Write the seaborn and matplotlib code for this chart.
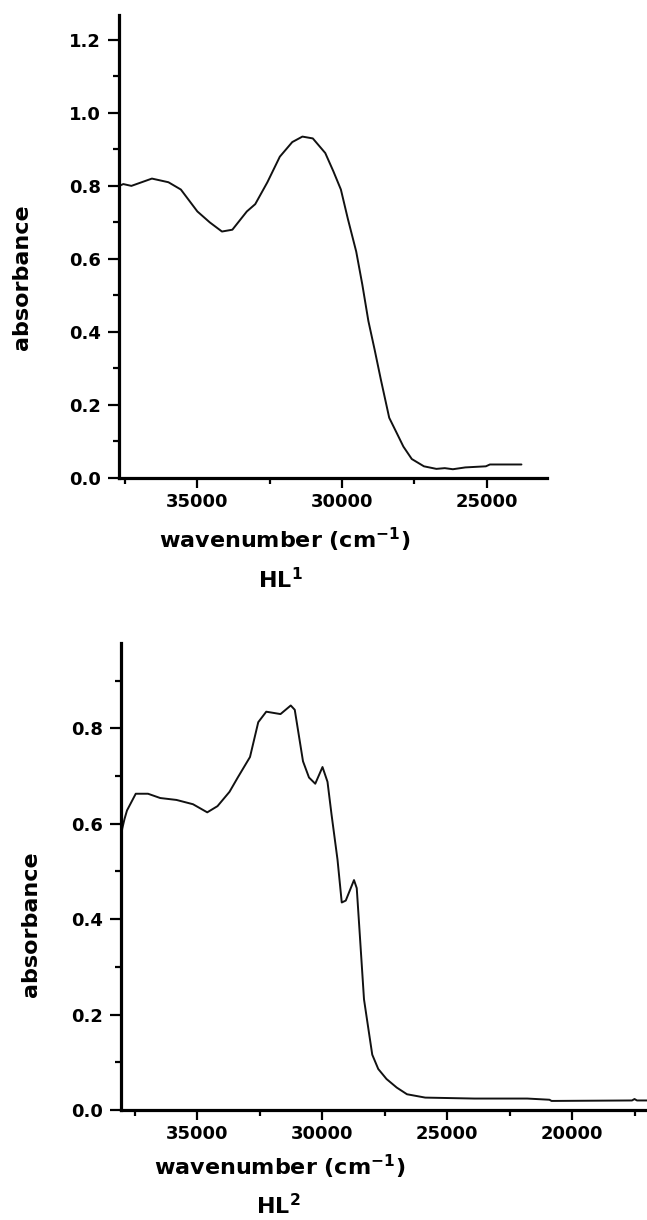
import numpy as np
import pandas as pd
import matplotlib
matplotlib.use("Agg")
import matplotlib.pyplot as plt
from matplotlib.ticker import MultipleLocator, FixedLocator
import seaborn as sns

# ---- data ----
hl1_wavenumber = [37700, 37560, 37280, 36570, 36000, 35570, 35000, 34570, 34150, 33790,
                  33290, 33000, 32580, 32150, 31720, 31370, 31010, 30580, 30300, 30040,
                  29800, 29510, 29300, 29090, 28870, 28660, 28370, 28090, 27880, 27590,
                  27170, 26740, 26450, 26170, 25740, 25030, 24890, 23800]
hl1_absorbance = [0.800, 0.805, 0.800, 0.820, 0.810, 0.790, 0.730, 0.700, 0.675, 0.680,
                  0.730, 0.750, 0.810, 0.880, 0.920, 0.935, 0.930, 0.890, 0.840, 0.790,
                  0.710, 0.620, 0.530, 0.430, 0.350, 0.270, 0.165, 0.120, 0.086, 0.052,
                  0.032, 0.025, 0.027, 0.024, 0.029, 0.032, 0.037, 0.037]

hl2_wavenumber = [38040, 37990, 37900, 37800, 37450, 36960, 36470, 35820, 35160, 34590,
                  34180, 33700, 33370, 32880, 32550, 32230, 31660, 31250, 31090, 30760,
                  30520, 30270, 29980, 29780, 29620, 29380, 29210, 29050, 28720, 28610,
                  28480, 28320, 28150, 27990, 27750, 27420, 27010, 26600, 25870, 23910,
                  21790, 20900, 20820, 17600, 17500, 17400, 16900]
hl2_absorbance = [0.572, 0.590, 0.610, 0.628, 0.663, 0.663, 0.654, 0.650, 0.641, 0.624,
                  0.637, 0.667, 0.697, 0.740, 0.813, 0.835, 0.830, 0.848, 0.839, 0.731,
                  0.697, 0.684, 0.719, 0.688, 0.620, 0.525, 0.435, 0.439, 0.482, 0.465,
                  0.361, 0.232, 0.172, 0.116, 0.086, 0.065, 0.047, 0.033, 0.026, 0.024,
                  0.024, 0.0215, 0.019, 0.020, 0.023, 0.020, 0.020]

y_ticks_top = [0.0, 0.2, 0.4, 0.6, 0.8, 1.0, 1.2]
y_ticks_bottom = [0.0, 0.2, 0.4, 0.6, 0.8]
x_ticks_top = [35000, 30000, 25000]
x_ticks_bottom = [35000, 30000, 25000, 20000]

sns.set_style("ticks")
plt.rcParams["font.family"] = ["DejaVu Sans"]
plt.rcParams["font.weight"] = "bold"
plt.rcParams["mathtext.fontset"] = "dejavusans"
plt.rcParams["text.color"] = "black"

df1 = pd.DataFrame({"wavenumber": hl1_wavenumber, "absorbance": hl1_absorbance})
df2 = pd.DataFrame({"wavenumber": hl2_wavenumber, "absorbance": hl2_absorbance})

fig = plt.figure(figsize=(6.47, 12.2), dpi=100)
ax1 = fig.add_axes([119 / 647, 1 - 478 / 1220, (547 - 119) / 647, (478 - 15) / 1220])
ax2 = fig.add_axes([121 / 647, 1 - 1110 / 1220, (647 - 121) / 647, (1110 - 643) / 1220])

sns.lineplot(data=df1, x="wavenumber", y="absorbance", ax=ax1, color="#111111",
             linewidth=1.4, estimator=None, sort=False)
sns.lineplot(data=df2, x="wavenumber", y="absorbance", ax=ax2, color="#111111",
             linewidth=1.4, estimator=None, sort=False)

def style(ax, xlim, ylim, xt, yt):
    ax.set_xlim(*xlim)
    ax.set_ylim(*ylim)
    ax.xaxis.set_major_locator(FixedLocator(xt))
    ax.xaxis.set_minor_locator(MultipleLocator(2500))
    ax.yaxis.set_major_locator(FixedLocator(yt))
    ax.yaxis.set_minor_locator(MultipleLocator(0.1))
    ax.set_xticklabels([str(v) for v in xt])
    ax.set_yticklabels([f"{v:.1f}" for v in yt])
    for s in ["top", "right"]:
        ax.spines[s].set_visible(False)
    for s in ["left", "bottom"]:
        ax.spines[s].set_linewidth(2.3)
        ax.spines[s].set_color("black")
    ax.tick_params(axis="y", which="major", length=8, width=1.6, pad=5,
                   labelsize=13, colors="black")
    ax.tick_params(axis="y", which="minor", length=4, width=1.6, colors="black")
    ax.tick_params(axis="x", which="major", length=7, width=1.6, pad=4,
                   labelsize=13, colors="black")
    ax.tick_params(axis="x", which="minor", length=4, width=1.6, colors="black")
    for lab in ax.get_xticklabels() + ax.get_yticklabels():
        lab.set_fontweight("bold")
        lab.set_color("black")
    ax.set_xlabel("")
    ax.set_ylabel("")
    ax.patch.set_alpha(0)

style(ax1, (37708, 22917), (0, 1.268), x_ticks_top, y_ticks_top)
style(ax2, (38040, 17000), (0, 0.979), x_ticks_bottom, y_ticks_bottom)

label_kw = dict(fontsize=16, fontweight="bold", ha="center", va="center", color="black")
fig.text(285 / 647, 1 - 540 / 1220, r"wavenumber (cm$^{\mathbf{-1}}$)", **label_kw)
fig.text(280 / 647, 1 - 580 / 1220, r"HL$^{\mathbf{1}}$", **label_kw)
fig.text(22 / 647, 1 - 277 / 1220, "absorbance", rotation=90, **label_kw)

fig.text(280 / 647, 1 - 1167 / 1220, r"wavenumber (cm$^{\mathbf{-1}}$)", **label_kw)
fig.text(278 / 647, 1 - 1206 / 1220, r"HL$^{\mathbf{2}}$", **label_kw)
fig.text(31 / 647, 1 - 924 / 1220, "absorbance", rotation=90, **label_kw)

fig.savefig("out.png", dpi=100, facecolor="white")
